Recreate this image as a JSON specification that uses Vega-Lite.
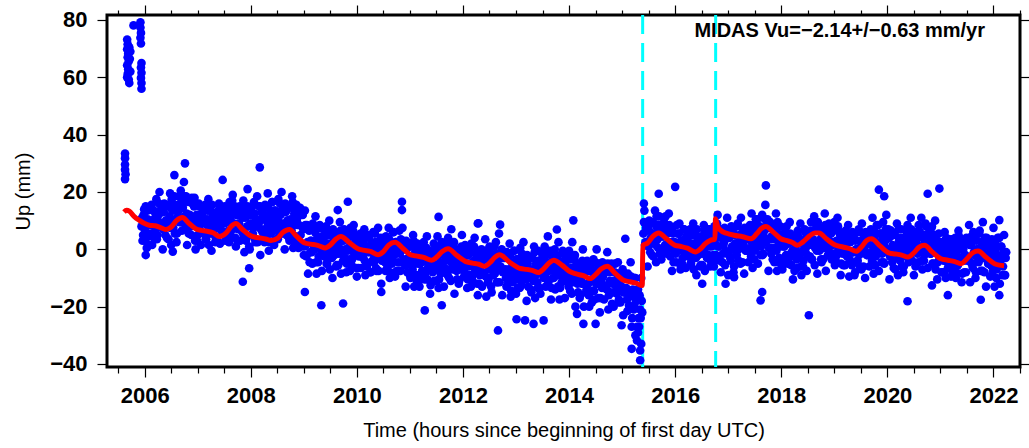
{
"$schema":"https://vega.github.io/schema/vega-lite/v6.json",
"width":913,"height":352,
"autosize":{"type":"none"},
"padding":{"left":107,"top":15,"right":9,"bottom":81},
"background":"white",
"config":{
"view":{"stroke":"black","strokeWidth":3},
"axis":{"domain":false,"grid":false,"tickColor":"black","tickWidth":1.2,"labelFont":"Liberation Sans","labelFontSize":22,"labelFontWeight":"bold","labelColor":"black","titleFont":"Liberation Sans","titleFontSize":20,"titleFontWeight":"normal","titleColor":"black","labelFlush":false,"labelOverlap":false}
},
"datasets":{
"breaks":[{"t":2015.387},{"t":2016.763}],
"label":[{"t":2021.84,"u":74.15,"txt":"MIDAS Vu=−2.14+/−0.63 mm/yr"}],
"model":[
{"t":2005.61,"u":13.0},{"t":2005.66,"u":13.6},{"t":2005.71,"u":13.3},{"t":2005.80,"u":11.5},{"t":2005.90,"u":10.1},{"t":2006.00,"u":9.0},{"t":2006.09,"u":8.4},{"t":2006.20,"u":8.2},{"t":2006.30,"u":7.6},{"t":2006.40,"u":6.9},{"t":2006.50,"u":7.8},{"t":2006.60,"u":10.0},{"t":2006.71,"u":11.1},{"t":2006.84,"u":9.0},{"t":2006.96,"u":7.2},{"t":2007.07,"u":6.6},{"t":2007.15,"u":6.4},{"t":2007.29,"u":5.8},{"t":2007.41,"u":4.5},{"t":2007.54,"u":5.8},{"t":2007.63,"u":8.0},{"t":2007.72,"u":9.0},{"t":2007.84,"u":7.0},{"t":2007.98,"u":4.9},{"t":2008.09,"u":4.2},{"t":2008.20,"u":3.9},{"t":2008.28,"u":3.6},{"t":2008.38,"u":3.1},{"t":2008.51,"u":3.9},{"t":2008.60,"u":5.8},{"t":2008.73,"u":6.9},{"t":2008.86,"u":4.6},{"t":2009.02,"u":2.2},{"t":2009.13,"u":1.8},{"t":2009.26,"u":1.4},{"t":2009.40,"u":0.5},{"t":2009.50,"u":1.5},{"t":2009.60,"u":3.5},{"t":2009.70,"u":4.5},{"t":2009.85,"u":2.5},{"t":2010.02,"u":0.2},{"t":2010.12,"u":-0.3},{"t":2010.27,"u":-0.8},{"t":2010.40,"u":-1.9},{"t":2010.50,"u":-0.8},{"t":2010.60,"u":1.5},{"t":2010.72,"u":2.5},{"t":2010.87,"u":0.3},{"t":2011.00,"u":-1.8},{"t":2011.11,"u":-2.3},{"t":2011.26,"u":-2.8},{"t":2011.41,"u":-3.8},{"t":2011.51,"u":-2.6},{"t":2011.61,"u":-0.8},{"t":2011.72,"u":0.2},{"t":2011.89,"u":-2.2},{"t":2012.07,"u":-4.4},{"t":2012.18,"u":-4.8},{"t":2012.30,"u":-5.2},{"t":2012.41,"u":-5.9},{"t":2012.51,"u":-4.6},{"t":2012.60,"u":-2.8},{"t":2012.69,"u":-1.9},{"t":2012.88,"u":-4.5},{"t":2013.08,"u":-6.7},{"t":2013.20,"u":-7.0},{"t":2013.32,"u":-7.4},{"t":2013.42,"u":-8.1},{"t":2013.52,"u":-6.8},{"t":2013.62,"u":-4.8},{"t":2013.71,"u":-3.8},{"t":2013.87,"u":-5.6},{"t":2014.00,"u":-7.6},{"t":2014.12,"u":-8.5},{"t":2014.27,"u":-9.2},{"t":2014.40,"u":-10.2},{"t":2014.50,"u":-8.8},{"t":2014.61,"u":-6.8},{"t":2014.72,"u":-5.9},{"t":2014.87,"u":-8.4},{"t":2015.03,"u":-10.8},{"t":2015.14,"u":-11.3},{"t":2015.26,"u":-11.8},{"t":2015.38,"u":-12.6},{"t":2015.39,"u":1.4},{"t":2015.48,"u":2.2},{"t":2015.58,"u":4.5},{"t":2015.69,"u":5.7},{"t":2015.83,"u":3.8},{"t":2016.00,"u":1.4},{"t":2016.11,"u":1.0},{"t":2016.23,"u":0.4},{"t":2016.38,"u":-0.9},{"t":2016.48,"u":0.2},{"t":2016.57,"u":2.0},{"t":2016.66,"u":3.1},{"t":2016.75,"u":3.6},{"t":2016.76,"u":10.7},{"t":2016.80,"u":8.0},{"t":2016.86,"u":6.6},{"t":2016.97,"u":5.6},{"t":2017.11,"u":4.9},{"t":2017.27,"u":4.4},{"t":2017.43,"u":3.7},{"t":2017.54,"u":5.5},{"t":2017.62,"u":7.2},{"t":2017.71,"u":8.0},{"t":2017.85,"u":6.0},{"t":2017.99,"u":3.7},{"t":2018.11,"u":3.0},{"t":2018.21,"u":2.4},{"t":2018.30,"u":1.4},{"t":2018.41,"u":2.6},{"t":2018.53,"u":4.6},{"t":2018.63,"u":5.7},{"t":2018.71,"u":5.7},{"t":2018.86,"u":3.5},{"t":2019.03,"u":1.4},{"t":2019.16,"u":0.8},{"t":2019.29,"u":0.2},{"t":2019.41,"u":-0.7},{"t":2019.51,"u":0.8},{"t":2019.61,"u":3.1},{"t":2019.70,"u":3.7},{"t":2019.86,"u":1.2},{"t":2020.04,"u":-1.3},{"t":2020.15,"u":-1.6},{"t":2020.27,"u":-2.0},{"t":2020.39,"u":-2.7},{"t":2020.50,"u":-1.2},{"t":2020.60,"u":0.8},{"t":2020.70,"u":1.4},{"t":2020.85,"u":-1.0},{"t":2021.01,"u":-3.3},{"t":2021.14,"u":-3.8},{"t":2021.27,"u":-4.3},{"t":2021.39,"u":-5.0},{"t":2021.49,"u":-3.5},{"t":2021.61,"u":-1.2},{"t":2021.71,"u":-0.6},{"t":2021.86,"u":-2.8},{"t":2022.02,"u":-5.0},{"t":2022.11,"u":-5.5},{"t":2022.20,"u":-5.7}
],
"pts":[
{"t":2005.67,"u":73.2},{"t":2005.68,"u":71.5},{"t":2005.67,"u":69.8},{"t":2005.69,"u":68.3},{"t":2005.68,"u":67},{"t":2005.70,"u":65.6},{"t":2005.67,"u":64.2},{"t":2005.69,"u":62.8},{"t":2005.68,"u":61.2},{"t":2005.67,"u":60},{"t":2005.70,"u":59.2},{"t":2005.71,"u":58},{"t":2005.72,"u":66.5},{"t":2005.73,"u":69},{"t":2005.73,"u":62},{"t":2005.71,"u":70.5},{"t":2005.79,"u":78.1},{"t":2005.92,"u":79.2},{"t":2005.92,"u":77.4},{"t":2005.93,"u":75.5},{"t":2005.92,"u":73.8},{"t":2005.93,"u":71.8},{"t":2005.94,"u":65},{"t":2005.93,"u":63.4},{"t":2005.94,"u":61.6},{"t":2005.93,"u":59.8},{"t":2005.94,"u":58},{"t":2005.94,"u":56},{"t":2005.63,"u":33.4},{"t":2005.63,"u":31.8},{"t":2005.63,"u":29.6},{"t":2005.63,"u":27.8},{"t":2005.64,"u":26.2},{"t":2005.63,"u":24.5},
{"t":2006.76,"u":30},{"t":2008.17,"u":28.6},{"t":2009.02,"u":-14.9},{"t":2009.33,"u":-19.5},{"t":2009.74,"u":-18.9},{"t":2010.46,"u":-14.9},{"t":2011.28,"u":-21.3},{"t":2011.60,"u":-19.5},{"t":2011.54,"u":11.3},{"t":2012.28,"u":9},{"t":2012.66,"u":-28.3},{"t":2013.01,"u":-24.4},{"t":2013.17,"u":-24.8},{"t":2013.33,"u":-26},{"t":2013.52,"u":-24.8},{"t":2014.08,"u":10.1},{"t":2015.06,"u":3.7},{"t":2014.15,"u":-22.5},{"t":2014.27,"u":-26},{"t":2014.50,"u":-26},{"t":2014.99,"u":-26.5},{"t":2015.18,"u":-34.7},{"t":2015.28,"u":-31.8},{"t":2015.34,"u":-35.3},{"t":2015.34,"u":-38.7},{"t":2015.30,"u":-29},{"t":2015.36,"u":-33},{"t":2015.25,"u":-30},{"t":2015.32,"u":-27},{"t":2015.41,"u":16},{"t":2015.69,"u":19.4},{"t":2016.00,"u":21.8},{"t":2016.51,"u":-12},{"t":2017.71,"u":22.3},{"t":2017.64,"u":-14.9},{"t":2017.61,"u":-17.8},{"t":2018.52,"u":-23},{"t":2016.95,"u":-12},{"t":2017.11,"u":-9.7},{"t":2019.84,"u":20.8},{"t":2019.94,"u":18.5},{"t":2020.76,"u":19.4},{"t":2020.98,"u":21.2},{"t":2020.38,"u":-18.1},{"t":2020.84,"u":-12.6},{"t":2021.14,"u":-16},{"t":2021.76,"u":-17.6},{"t":2022.11,"u":-16},{"t":2007.47,"u":24.2},{"t":2006.56,"u":25.9},{"t":2007.94,"u":21},{"t":2007.85,"u":-11.3},{"t":2007.97,"u":-6.6},{"t":2006.53,"u":-0.8},{"t":2006.02,"u":-2},{"t":2010.85,"u":16.6},{"t":2010.85,"u":13.7},{"t":2009.83,"u":16.6},{"t":2009.64,"u":13.7},{"t":2012.29,"u":9.1},{"t":2012.70,"u":8.6},{"t":2013.77,"u":6.9},{"t":2022.11,"u":10.2},
{"t":2005.94,"u":8},{"t":2005.96,"u":3},{"t":2005.98,"u":12},{"t":2006.00,"u":7},{"t":2006.02,"u":15},
{"t":2006.04,"u":0.5},{"t":2006.06,"u":10.5},{"t":2006.08,"u":4.5},{"t":2006.10,"u":14.5},{"t":2006.12,"u":8.5},
{"t":2006.14,"u":1.5},{"t":2006.16,"u":13.5},{"t":2006.18,"u":10.5},{"t":2006.20,"u":6.5},{"t":2006.22,"u":17.5},
{"t":2006.24,"u":5},{"t":2006.26,"u":12},{"t":2006.28,"u":20},{"t":2006.30,"u":9},{"t":2006.32,"u":15},
{"t":2006.34,"u":0},{"t":2006.36,"u":13},{"t":2006.38,"u":8},{"t":2006.40,"u":10},{"t":2006.42,"u":4},
{"t":2006.44,"u":15.5},{"t":2006.46,"u":8.5},{"t":2006.48,"u":19.5},{"t":2006.50,"u":1.5},{"t":2006.52,"u":13.5},
{"t":2006.54,"u":7.5},{"t":2006.56,"u":18.5},{"t":2006.58,"u":10.5},{"t":2006.60,"u":2.5},{"t":2006.62,"u":15.5},
{"t":2006.64,"u":13.5},{"t":2006.66,"u":9.5},{"t":2006.68,"u":20.5},{"t":2006.70,"u":6.5},{"t":2006.72,"u":14.5},
{"t":2006.74,"u":23.5},{"t":2006.76,"u":11.5},{"t":2006.78,"u":18.5},{"t":2006.80,"u":1.5},{"t":2006.82,"u":16.5},
{"t":2006.84,"u":9},{"t":2006.86,"u":11},{"t":2006.88,"u":5},{"t":2006.90,"u":16},{"t":2006.92,"u":9},
{"t":2006.94,"u":18},{"t":2006.96,"u":0},{"t":2006.98,"u":12},{"t":2007.00,"u":5},{"t":2007.02,"u":16},
{"t":2007.04,"u":8.5},{"t":2007.06,"u":1.5},{"t":2007.08,"u":11.5},{"t":2007.10,"u":9.5},{"t":2007.12,"u":5.5},
{"t":2007.14,"u":15.5},{"t":2007.16,"u":3.5},{"t":2007.18,"u":10.5},{"t":2007.20,"u":17.5},{"t":2007.22,"u":7.5},
{"t":2007.24,"u":13.5},{"t":2007.26,"u":-0.5},{"t":2007.28,"u":11.5},{"t":2007.30,"u":6.5},{"t":2007.32,"u":8.5},
{"t":2007.34,"u":4},{"t":2007.36,"u":13},{"t":2007.38,"u":8},{"t":2007.40,"u":16},{"t":2007.42,"u":2},
{"t":2007.44,"u":11},{"t":2007.46,"u":6},{"t":2007.48,"u":14},{"t":2007.50,"u":9},{"t":2007.52,"u":3},
{"t":2007.54,"u":12.5},{"t":2007.56,"u":10.5},{"t":2007.58,"u":6.5},{"t":2007.60,"u":16.5},{"t":2007.62,"u":4.5},
{"t":2007.64,"u":12},{"t":2007.66,"u":19},{"t":2007.68,"u":9},{"t":2007.70,"u":15},{"t":2007.72,"u":1},
{"t":2007.74,"u":12},{"t":2007.76,"u":7},{"t":2007.78,"u":9},{"t":2007.80,"u":3},{"t":2007.82,"u":14},
{"t":2007.84,"u":6},{"t":2007.86,"u":17},{"t":2007.88,"u":-1},{"t":2007.90,"u":11},{"t":2007.92,"u":4},
{"t":2007.94,"u":15},{"t":2007.96,"u":8},{"t":2007.98,"u":0},{"t":2008.00,"u":12},{"t":2008.02,"u":9},
{"t":2008.04,"u":5.5},{"t":2008.06,"u":16.5},{"t":2008.08,"u":3.5},{"t":2008.10,"u":10.5},{"t":2008.12,"u":18.5},
{"t":2008.14,"u":8},{"t":2008.16,"u":15},{"t":2008.18,"u":-2},{"t":2008.20,"u":13},{"t":2008.22,"u":6},
{"t":2008.24,"u":10.5},{"t":2008.26,"u":2.5},{"t":2008.28,"u":14.5},{"t":2008.30,"u":7.5},{"t":2008.32,"u":19.5},
{"t":2008.34,"u":-0.5},{"t":2008.36,"u":12.5},{"t":2008.38,"u":5.5},{"t":2008.40,"u":16.5},{"t":2008.42,"u":8.5},
{"t":2008.44,"u":1.5},{"t":2008.46,"u":13.5},{"t":2008.48,"u":10.5},{"t":2008.50,"u":6.5},{"t":2008.52,"u":17.5},
{"t":2008.54,"u":5},{"t":2008.56,"u":12},{"t":2008.58,"u":20},{"t":2008.60,"u":9},{"t":2008.62,"u":15},
{"t":2008.64,"u":0},{"t":2008.66,"u":13},{"t":2008.68,"u":8},{"t":2008.70,"u":10},{"t":2008.72,"u":4},
{"t":2008.74,"u":14.5},{"t":2008.76,"u":7.5},{"t":2008.78,"u":18.5},{"t":2008.80,"u":0.5},{"t":2008.82,"u":12.5},
{"t":2008.84,"u":4.5},{"t":2008.86,"u":15.5},{"t":2008.88,"u":8.5},{"t":2008.90,"u":0.5},{"t":2008.92,"u":12.5},
{"t":2008.94,"u":5},{"t":2008.96,"u":1},{"t":2008.98,"u":12},{"t":2009.00,"u":-2},
{"t":2009.02,"u":13.5},{"t":2009.04,"u":1.5},{"t":2009.06,"u":8.5},{"t":2009.08,"u":-8.5},{"t":2009.10,"u":6.5},
{"t":2009.12,"u":-1},{"t":2009.14,"u":3},{"t":2009.16,"u":-5},{"t":2009.18,"u":7},{"t":2009.20,"u":0},
{"t":2009.22,"u":11.5},{"t":2009.24,"u":-8.5},{"t":2009.26,"u":4.5},{"t":2009.28,"u":-2.5},{"t":2009.30,"u":8.5},
{"t":2009.32,"u":0.5},{"t":2009.34,"u":-7.5},{"t":2009.36,"u":4.5},{"t":2009.38,"u":1.5},{"t":2009.40,"u":-2.5},
{"t":2009.42,"u":8},{"t":2009.44,"u":-5},{"t":2009.46,"u":2},{"t":2009.48,"u":10},{"t":2009.50,"u":-1},
{"t":2009.52,"u":5},{"t":2009.54,"u":-10},{"t":2009.56,"u":3},{"t":2009.58,"u":-2},{"t":2009.60,"u":0},
{"t":2009.62,"u":-5.5},{"t":2009.64,"u":5.5},{"t":2009.66,"u":-1.5},{"t":2009.68,"u":9.5},{"t":2009.70,"u":-8.5},
{"t":2009.72,"u":3},{"t":2009.74,"u":-4},{"t":2009.76,"u":7},{"t":2009.78,"u":0},{"t":2009.80,"u":-8},
{"t":2009.82,"u":3.5},{"t":2009.84,"u":0.5},{"t":2009.86,"u":-3.5},{"t":2009.88,"u":7.5},{"t":2009.90,"u":-5.5},
{"t":2009.92,"u":1.5},{"t":2009.94,"u":8.5},{"t":2009.96,"u":-1.5},{"t":2009.98,"u":4.5},{"t":2010.00,"u":-9.5},
{"t":2010.02,"u":2.5},{"t":2010.04,"u":-2.5},{"t":2010.06,"u":-0.5},{"t":2010.08,"u":-6.5},{"t":2010.10,"u":3.5},
{"t":2010.12,"u":-3},{"t":2010.14,"u":7},{"t":2010.16,"u":-9},{"t":2010.18,"u":1},{"t":2010.20,"u":-5},
{"t":2010.22,"u":5},{"t":2010.24,"u":-1},{"t":2010.26,"u":-8},{"t":2010.28,"u":2},{"t":2010.30,"u":0},
{"t":2010.32,"u":-4.5},{"t":2010.34,"u":5.5},{"t":2010.36,"u":-6.5},{"t":2010.38,"u":0.5},{"t":2010.40,"u":7.5},
{"t":2010.42,"u":-3},{"t":2010.44,"u":3},{"t":2010.46,"u":-12},{"t":2010.48,"u":1},{"t":2010.50,"u":-4},
{"t":2010.52,"u":-1.5},{"t":2010.54,"u":-7.5},{"t":2010.56,"u":3.5},{"t":2010.58,"u":-3.5},{"t":2010.60,"u":7.5},
{"t":2010.62,"u":-10},{"t":2010.64,"u":2},{"t":2010.66,"u":-5},{"t":2010.68,"u":6},{"t":2010.70,"u":-1},
{"t":2010.72,"u":-9.5},{"t":2010.74,"u":2.5},{"t":2010.76,"u":-0.5},{"t":2010.78,"u":-4.5},{"t":2010.80,"u":6.5},
{"t":2010.82,"u":-7.5},{"t":2010.84,"u":-0.5},{"t":2010.86,"u":7.5},{"t":2010.88,"u":-3.5},{"t":2010.90,"u":2.5},
{"t":2010.92,"u":-13},{"t":2010.94,"u":0},{"t":2010.96,"u":-5},{"t":2010.98,"u":-3},{"t":2011.00,"u":-9},
{"t":2011.02,"u":1},{"t":2011.04,"u":-6},{"t":2011.06,"u":5},{"t":2011.08,"u":-13},{"t":2011.10,"u":-1},
{"t":2011.12,"u":-9},{"t":2011.14,"u":2},{"t":2011.16,"u":-5},{"t":2011.18,"u":-13},{"t":2011.20,"u":-1},
{"t":2011.22,"u":-4.5},{"t":2011.24,"u":-8.5},{"t":2011.26,"u":2.5},{"t":2011.28,"u":-10.5},{"t":2011.30,"u":-3.5},
{"t":2011.32,"u":4.5},{"t":2011.34,"u":-6.5},{"t":2011.36,"u":-0.5},{"t":2011.38,"u":-15.5},{"t":2011.40,"u":-2.5},
{"t":2011.42,"u":-7},{"t":2011.44,"u":-5},{"t":2011.46,"u":-11},{"t":2011.48,"u":0},{"t":2011.50,"u":-7},
{"t":2011.52,"u":4.5},{"t":2011.54,"u":-13.5},{"t":2011.56,"u":-1.5},{"t":2011.58,"u":-8.5},{"t":2011.60,"u":2.5},
{"t":2011.62,"u":-5},{"t":2011.64,"u":-13},{"t":2011.66,"u":0},{"t":2011.68,"u":-3},{"t":2011.70,"u":-7},
{"t":2011.72,"u":4},{"t":2011.74,"u":-10},{"t":2011.76,"u":-2},{"t":2011.78,"u":7},{"t":2011.80,"u":-5},
{"t":2011.82,"u":1.5},{"t":2011.84,"u":-15.5},{"t":2011.86,"u":-0.5},{"t":2011.88,"u":-7.5},{"t":2011.90,"u":-3.5},
{"t":2011.92,"u":-12},{"t":2011.94,"u":0},{"t":2011.96,"u":-7},{"t":2011.98,"u":5},
{"t":2012.00,"u":-2.5},{"t":2012.02,"u":-9.5},{"t":2012.04,"u":1.5},{"t":2012.06,"u":-5.5},{"t":2012.08,"u":-13.5},
{"t":2012.10,"u":-2},{"t":2012.12,"u":-5},{"t":2012.14,"u":-9},{"t":2012.16,"u":2},{"t":2012.18,"u":-11},
{"t":2012.20,"u":-4},{"t":2012.22,"u":4},{"t":2012.24,"u":-7},{"t":2012.26,"u":-1},{"t":2012.28,"u":-16},
{"t":2012.30,"u":-2},{"t":2012.32,"u":-9},{"t":2012.34,"u":-5},{"t":2012.36,"u":-13},{"t":2012.38,"u":-1},
{"t":2012.40,"u":-8.5},{"t":2012.42,"u":3.5},{"t":2012.44,"u":-16.5},{"t":2012.46,"u":-3.5},{"t":2012.48,"u":-10.5},
{"t":2012.50,"u":1},{"t":2012.52,"u":-7},{"t":2012.54,"u":-15},{"t":2012.56,"u":-2},{"t":2012.58,"u":-5},
{"t":2012.60,"u":-8.5},{"t":2012.62,"u":2.5},{"t":2012.64,"u":-11.5},{"t":2012.66,"u":-3.5},{"t":2012.68,"u":5.5},
{"t":2012.70,"u":-7},{"t":2012.72,"u":-1},{"t":2012.74,"u":-16},{"t":2012.76,"u":-3},{"t":2012.78,"u":-8},
{"t":2012.80,"u":-7},{"t":2012.82,"u":-13},{"t":2012.84,"u":-2},{"t":2012.86,"u":-9},{"t":2012.88,"u":2},
{"t":2012.90,"u":-16.5},{"t":2012.92,"u":-4.5},{"t":2012.94,"u":-11.5},{"t":2012.96,"u":-0.5},{"t":2012.98,"u":-7.5},
{"t":2013.00,"u":-15.5},{"t":2013.02,"u":-3.5},{"t":2013.04,"u":-6.5},{"t":2013.06,"u":-10.5},{"t":2013.08,"u":0.5},
{"t":2013.10,"u":-12.5},{"t":2013.12,"u":-5.5},{"t":2013.14,"u":2.5},{"t":2013.16,"u":-8.5},{"t":2013.18,"u":-2.5},
{"t":2013.20,"u":-18},{"t":2013.22,"u":-5},{"t":2013.24,"u":-10},{"t":2013.26,"u":-8},{"t":2013.28,"u":-14},
{"t":2013.30,"u":-3},{"t":2013.32,"u":-10},{"t":2013.34,"u":1},{"t":2013.36,"u":-17},{"t":2013.38,"u":-5},
{"t":2013.40,"u":-11.5},{"t":2013.42,"u":-0.5},{"t":2013.44,"u":-7.5},{"t":2013.46,"u":-15.5},{"t":2013.48,"u":-3.5},
{"t":2013.50,"u":-6},{"t":2013.52,"u":-10},{"t":2013.54,"u":1},{"t":2013.56,"u":-13},{"t":2013.58,"u":-5},
{"t":2013.60,"u":4.5},{"t":2013.62,"u":-7.5},{"t":2013.64,"u":-0.5},{"t":2013.66,"u":-17.5},{"t":2013.68,"u":-2.5},
{"t":2013.70,"u":-10},{"t":2013.72,"u":-6},{"t":2013.74,"u":-14},{"t":2013.76,"u":-2},{"t":2013.78,"u":-9},
{"t":2013.80,"u":2.5},{"t":2013.82,"u":-17.5},{"t":2013.84,"u":-4.5},{"t":2013.86,"u":-11.5},{"t":2013.88,"u":-0.5},
{"t":2013.90,"u":-9},{"t":2013.92,"u":-17},{"t":2013.94,"u":-4},{"t":2013.96,"u":-7},{"t":2013.98,"u":-11},
{"t":2014.00,"u":-0.5},{"t":2014.02,"u":-14.5},{"t":2014.04,"u":-6.5},{"t":2014.06,"u":2.5},{"t":2014.08,"u":-9.5},
{"t":2014.10,"u":-3},{"t":2014.12,"u":-20},{"t":2014.14,"u":-5},{"t":2014.16,"u":-12},{"t":2014.18,"u":-8},
{"t":2014.20,"u":-17},{"t":2014.22,"u":-5},{"t":2014.24,"u":-12},{"t":2014.26,"u":0},{"t":2014.28,"u":-20},
{"t":2014.30,"u":-8},{"t":2014.32,"u":-15},{"t":2014.34,"u":-4},{"t":2014.36,"u":-12},{"t":2014.38,"u":-20},
{"t":2014.40,"u":-7.5},{"t":2014.42,"u":-10.5},{"t":2014.44,"u":-14.5},{"t":2014.46,"u":-3.5},{"t":2014.48,"u":-17.5},
{"t":2014.50,"u":-9},{"t":2014.52,"u":0},{"t":2014.54,"u":-12},{"t":2014.56,"u":-5},{"t":2014.58,"u":-22},
{"t":2014.60,"u":-6.5},{"t":2014.62,"u":-13.5},{"t":2014.64,"u":-9.5},{"t":2014.66,"u":-17.5},{"t":2014.68,"u":-5.5},
{"t":2014.70,"u":-13},{"t":2014.72,"u":-1},{"t":2014.74,"u":-21},{"t":2014.76,"u":-8},{"t":2014.78,"u":-15},
{"t":2014.80,"u":-5},{"t":2014.82,"u":-12},{"t":2014.84,"u":-20},{"t":2014.86,"u":-8},{"t":2014.88,"u":-11},
{"t":2014.90,"u":-15.5},{"t":2014.92,"u":-4.5},{"t":2014.94,"u":-17.5},{"t":2014.96,"u":-10.5},
{"t":2014.98,"u":-14},{"t":2015.00,"u":-8},{"t":2015.02,"u":-23},{"t":2015.04,"u":-10},{"t":2015.06,"u":-15},
{"t":2015.08,"u":-13.5},{"t":2015.10,"u":-21.5},{"t":2015.12,"u":-9.5},{"t":2015.14,"u":-16.5},{"t":2015.16,"u":-4.5},
{"t":2015.18,"u":-27},{"t":2015.20,"u":-14},{"t":2015.22,"u":-21},{"t":2015.24,"u":-10},{"t":2015.26,"u":-18},
{"t":2015.28,"u":-27},{"t":2015.30,"u":-14},{"t":2015.32,"u":-17},{"t":2015.34,"u":-21},{"t":2015.36,"u":-10},
{"t":2015.38,"u":-22},
{"t":2015.40,"u":5.5},{"t":2015.42,"u":13.5},{"t":2015.44,"u":2.5},{"t":2015.46,"u":8.5},
{"t":2015.48,"u":-6},{"t":2015.50,"u":7},{"t":2015.52,"u":2},{"t":2015.54,"u":4},{"t":2015.56,"u":-2},
{"t":2015.58,"u":9.5},{"t":2015.60,"u":2.5},{"t":2015.62,"u":13.5},{"t":2015.64,"u":-4.5},{"t":2015.66,"u":7.5},
{"t":2015.68,"u":0.5},{"t":2015.70,"u":11.5},{"t":2015.72,"u":4.5},{"t":2015.74,"u":-3.5},{"t":2015.76,"u":8.5},
{"t":2015.78,"u":4.5},{"t":2015.80,"u":0.5},{"t":2015.82,"u":11.5},{"t":2015.84,"u":-1.5},{"t":2015.86,"u":5.5},
{"t":2015.88,"u":12.5},{"t":2015.90,"u":1.5},{"t":2015.92,"u":7.5},{"t":2015.94,"u":-7.5},{"t":2015.96,"u":5.5},
{"t":2015.98,"u":-0.5},{"t":2016.00,"u":1.5},{"t":2016.02,"u":-4.5},{"t":2016.04,"u":5.5},{"t":2016.06,"u":-0.5},
{"t":2016.08,"u":9},{"t":2016.10,"u":-7},{"t":2016.12,"u":3},{"t":2016.14,"u":-3},{"t":2016.16,"u":7},
{"t":2016.18,"u":0.5},{"t":2016.20,"u":-6.5},{"t":2016.22,"u":3.5},{"t":2016.24,"u":1.5},{"t":2016.26,"u":-2.5},
{"t":2016.28,"u":7},{"t":2016.30,"u":-5},{"t":2016.32,"u":2},{"t":2016.34,"u":9},{"t":2016.36,"u":-1},
{"t":2016.38,"u":5},{"t":2016.40,"u":-9},{"t":2016.42,"u":3},{"t":2016.44,"u":-2},{"t":2016.46,"u":0},
{"t":2016.48,"u":-5.5},{"t":2016.50,"u":4.5},{"t":2016.52,"u":-1.5},{"t":2016.54,"u":8.5},{"t":2016.56,"u":-7.5},
{"t":2016.58,"u":3},{"t":2016.60,"u":-3},{"t":2016.62,"u":7},{"t":2016.64,"u":1},{"t":2016.66,"u":-6},
{"t":2016.68,"u":4},{"t":2016.70,"u":2},{"t":2016.72,"u":-2},{"t":2016.74,"u":8},{"t":2016.76,"u":-4},
{"t":2016.78,"u":4},{"t":2016.80,"u":12},{"t":2016.82,"u":1},{"t":2016.84,"u":7},{"t":2016.86,"u":-8},
{"t":2016.88,"u":5.5},{"t":2016.90,"u":-1.5},{"t":2016.92,"u":2.5},{"t":2016.94,"u":-5.5},
{"t":2016.96,"u":-1},{"t":2016.98,"u":11},{"t":2017.00,"u":-9},{"t":2017.02,"u":4},{"t":2017.04,"u":-3},
{"t":2017.06,"u":8},{"t":2017.08,"u":0},{"t":2017.10,"u":-8},{"t":2017.12,"u":5},{"t":2017.14,"u":2},
{"t":2017.16,"u":-2},{"t":2017.18,"u":9},{"t":2017.20,"u":-4},{"t":2017.22,"u":3},{"t":2017.24,"u":11},
{"t":2017.26,"u":0.5},{"t":2017.28,"u":6.5},{"t":2017.30,"u":-8.5},{"t":2017.32,"u":4.5},{"t":2017.34,"u":-0.5},
{"t":2017.36,"u":3.5},{"t":2017.38,"u":-4.5},{"t":2017.40,"u":7.5},{"t":2017.42,"u":0.5},{"t":2017.44,"u":12.5},
{"t":2017.46,"u":-6.5},{"t":2017.48,"u":6.5},{"t":2017.50,"u":-0.5},{"t":2017.52,"u":10.5},{"t":2017.54,"u":2.5},
{"t":2017.56,"u":-5},{"t":2017.58,"u":8},{"t":2017.60,"u":5},{"t":2017.62,"u":1},{"t":2017.64,"u":12},
{"t":2017.66,"u":-1.5},{"t":2017.68,"u":6.5},{"t":2017.70,"u":15.5},{"t":2017.72,"u":3.5},{"t":2017.74,"u":10.5},
{"t":2017.76,"u":-7.5},{"t":2017.78,"u":7.5},{"t":2017.80,"u":0.5},{"t":2017.82,"u":4.5},{"t":2017.84,"u":-3.5},
{"t":2017.86,"u":7.5},{"t":2017.88,"u":0.5},{"t":2017.90,"u":12.5},{"t":2017.92,"u":-7.5},{"t":2017.94,"u":5.5},
{"t":2017.96,"u":-3},{"t":2017.98,"u":8},{"t":2018.00,"u":1},{"t":2018.02,"u":-7},{"t":2018.04,"u":5},
{"t":2018.06,"u":1},{"t":2018.08,"u":-3},{"t":2018.10,"u":8},{"t":2018.12,"u":-5},{"t":2018.14,"u":2},
{"t":2018.16,"u":9.5},{"t":2018.18,"u":-1.5},{"t":2018.20,"u":4.5},{"t":2018.22,"u":-10.5},{"t":2018.24,"u":2.5},
{"t":2018.26,"u":-2.5},{"t":2018.28,"u":-0.5},{"t":2018.30,"u":-6.5},{"t":2018.32,"u":4.5},{"t":2018.34,"u":-2.5},
{"t":2018.36,"u":9},{"t":2018.38,"u":-9},{"t":2018.40,"u":3},{"t":2018.42,"u":-4},{"t":2018.44,"u":7},
{"t":2018.46,"u":0.5},{"t":2018.48,"u":-7.5},{"t":2018.50,"u":4.5},{"t":2018.52,"u":1.5},{"t":2018.54,"u":-2.5},
{"t":2018.56,"u":9.5},{"t":2018.58,"u":-3.5},{"t":2018.60,"u":3.5},{"t":2018.62,"u":11.5},{"t":2018.64,"u":0.5},
{"t":2018.66,"u":8.5},{"t":2018.68,"u":-8.5},{"t":2018.70,"u":6.5},{"t":2018.72,"u":-0.5},{"t":2018.74,"u":3.5},
{"t":2018.76,"u":-4.5},{"t":2018.78,"u":7.5},{"t":2018.80,"u":0.5},{"t":2018.82,"u":12.5},{"t":2018.84,"u":-7.5},
{"t":2018.86,"u":5},{"t":2018.88,"u":-2},{"t":2018.90,"u":9},{"t":2018.92,"u":2},
{"t":2018.94,"u":5.5},{"t":2018.96,"u":2.5},{"t":2018.98,"u":-1.5},{"t":2019.00,"u":9.5},{"t":2019.02,"u":-3.5},
{"t":2019.04,"u":3},{"t":2019.06,"u":11},{"t":2019.08,"u":0},{"t":2019.10,"u":6},{"t":2019.12,"u":-9},
{"t":2019.14,"u":3.5},{"t":2019.16,"u":-1.5},{"t":2019.18,"u":0.5},{"t":2019.20,"u":-5.5},{"t":2019.22,"u":5.5},
{"t":2019.24,"u":-2.5},{"t":2019.26,"u":8.5},{"t":2019.28,"u":-9.5},{"t":2019.30,"u":2.5},{"t":2019.32,"u":-4.5},
{"t":2019.34,"u":6},{"t":2019.36,"u":-1},{"t":2019.38,"u":-9},{"t":2019.40,"u":3},{"t":2019.42,"u":0},
{"t":2019.44,"u":-4},{"t":2019.46,"u":7},{"t":2019.48,"u":-6},{"t":2019.50,"u":1},{"t":2019.52,"u":9},
{"t":2019.54,"u":-1},{"t":2019.56,"u":5},{"t":2019.58,"u":-10},{"t":2019.60,"u":3},{"t":2019.62,"u":-2},
{"t":2019.64,"u":2},{"t":2019.66,"u":-6},{"t":2019.68,"u":6},{"t":2019.70,"u":-1},{"t":2019.72,"u":11},
{"t":2019.74,"u":-8.5},{"t":2019.76,"u":4.5},{"t":2019.78,"u":-2.5},{"t":2019.80,"u":8.5},{"t":2019.82,"u":0.5},
{"t":2019.84,"u":-7.5},{"t":2019.86,"u":5.5},{"t":2019.88,"u":2.5},{"t":2019.90,"u":-1.5},{"t":2019.92,"u":9.5},
{"t":2019.94,"u":-5},{"t":2019.96,"u":3},{"t":2019.98,"u":12},{"t":2020.00,"u":0},{"t":2020.02,"u":7},
{"t":2020.04,"u":-10.5},{"t":2020.06,"u":4.5},{"t":2020.08,"u":-2.5},{"t":2020.10,"u":1.5},{"t":2020.12,"u":-6.5},
{"t":2020.14,"u":5},{"t":2020.16,"u":-2},{"t":2020.18,"u":9},{"t":2020.20,"u":-9},{"t":2020.22,"u":3},
{"t":2020.24,"u":-4},{"t":2020.26,"u":7},{"t":2020.28,"u":0},{"t":2020.30,"u":-8},{"t":2020.32,"u":4},
{"t":2020.34,"u":1.5},{"t":2020.36,"u":-2.5},{"t":2020.38,"u":8.5},{"t":2020.40,"u":-4.5},{"t":2020.42,"u":2.5},
{"t":2020.44,"u":11},{"t":2020.46,"u":0},{"t":2020.48,"u":6},{"t":2020.50,"u":-9},{"t":2020.52,"u":4},
{"t":2020.54,"u":-0.5},{"t":2020.56,"u":1.5},{"t":2020.58,"u":-4.5},{"t":2020.60,"u":6.5},{"t":2020.62,"u":-0.5},
{"t":2020.64,"u":11},{"t":2020.66,"u":-7},{"t":2020.68,"u":5},{"t":2020.70,"u":-2},{"t":2020.72,"u":9},
{"t":2020.74,"u":1.5},{"t":2020.76,"u":-6.5},{"t":2020.78,"u":5.5},{"t":2020.80,"u":2.5},{"t":2020.82,"u":-1.5},
{"t":2020.84,"u":8},{"t":2020.86,"u":-5},{"t":2020.88,"u":2},{"t":2020.90,"u":10},
{"t":2020.92,"u":3.5},{"t":2020.94,"u":-10.5},{"t":2020.96,"u":1.5},{"t":2020.98,"u":-3.5},{"t":2021.00,"u":-1.5},
{"t":2021.02,"u":-8},{"t":2021.04,"u":2},{"t":2021.06,"u":-4},{"t":2021.08,"u":6},{"t":2021.10,"u":-10},
{"t":2021.12,"u":-0.5},{"t":2021.14,"u":-6.5},{"t":2021.16,"u":3.5},{"t":2021.18,"u":-2.5},{"t":2021.20,"u":-9.5},
{"t":2021.22,"u":0},{"t":2021.24,"u":-2},{"t":2021.26,"u":-6},{"t":2021.28,"u":4},{"t":2021.30,"u":-8},
{"t":2021.32,"u":-0.5},{"t":2021.34,"u":6.5},{"t":2021.36,"u":-3.5},{"t":2021.38,"u":2.5},{"t":2021.40,"u":-11.5},
{"t":2021.42,"u":1},{"t":2021.44,"u":-4},{"t":2021.46,"u":-2},{"t":2021.48,"u":-8},{"t":2021.50,"u":3},
{"t":2021.52,"u":-3.5},{"t":2021.54,"u":8.5},{"t":2021.56,"u":-11.5},{"t":2021.58,"u":1.5},{"t":2021.60,"u":-5.5},
{"t":2021.62,"u":6},{"t":2021.64,"u":-2},{"t":2021.66,"u":-10},{"t":2021.68,"u":3},{"t":2021.70,"u":0},
{"t":2021.72,"u":-4.5},{"t":2021.74,"u":6.5},{"t":2021.76,"u":-7.5},{"t":2021.78,"u":0.5},{"t":2021.80,"u":9.5},
{"t":2021.82,"u":-3},{"t":2021.84,"u":4},{"t":2021.86,"u":-13},{"t":2021.88,"u":2},{"t":2021.90,"u":-5},
{"t":2021.92,"u":-1.5},{"t":2021.94,"u":-9.5},{"t":2021.96,"u":2.5},{"t":2021.98,"u":-4.5},{"t":2022.00,"u":7.5},
{"t":2022.02,"u":-13},{"t":2022.04,"u":0},{"t":2022.06,"u":-7},{"t":2022.08,"u":4},{"t":2022.10,"u":-4},
{"t":2022.12,"u":-12},{"t":2022.14,"u":1},{"t":2022.16,"u":-2},{"t":2022.18,"u":-6},{"t":2022.20,"u":5},
{"t":2022.22,"u":-9},{"t":2022.24,"u":-1},
{"t":2005.95,"u":11},{"t":2005.97,"u":5},{"t":2005.99,"u":14},{"t":2006.01,"u":3},{"t":2006.03,"u":8},
{"t":2006.05,"u":13.5},{"t":2006.07,"u":1.5},{"t":2006.09,"u":9.5},{"t":2006.11,"u":5.5},{"t":2006.13,"u":15.5},
{"t":2006.15,"u":8.5},{"t":2006.17,"u":13.5},{"t":2006.19,"u":3.5},{"t":2006.21,"u":11.5},{"t":2006.23,"u":3.5},
{"t":2006.25,"u":10},{"t":2006.27,"u":16},{"t":2006.29,"u":8},{"t":2006.31,"u":14},{"t":2006.33,"u":13},
{"t":2006.35,"u":7},{"t":2006.37,"u":16},{"t":2006.39,"u":5},{"t":2006.41,"u":10},{"t":2006.43,"u":15},
{"t":2006.45,"u":3.5},{"t":2006.47,"u":11.5},{"t":2006.49,"u":7.5},{"t":2006.51,"u":17.5},{"t":2006.53,"u":9.5},
{"t":2006.55,"u":15.5},{"t":2006.57,"u":5.5},{"t":2006.59,"u":13.5},{"t":2006.61,"u":5.5},{"t":2006.63,"u":11.5},
{"t":2006.65,"u":18.5},{"t":2006.67,"u":10.5},{"t":2006.69,"u":16.5},{"t":2006.71,"u":15.5},{"t":2006.73,"u":9.5},
{"t":2006.75,"u":18.5},{"t":2006.77,"u":7.5},{"t":2006.79,"u":12.5},{"t":2006.81,"u":17.5},{"t":2006.83,"u":5.5},
{"t":2006.85,"u":12},{"t":2006.87,"u":8},{"t":2006.89,"u":18},{"t":2006.91,"u":10},{"t":2006.93,"u":15},
{"t":2006.95,"u":3},{"t":2006.97,"u":11},{"t":2006.99,"u":3},{"t":2007.01,"u":9},{"t":2007.03,"u":15},
{"t":2007.05,"u":6.5},{"t":2007.07,"u":12.5},{"t":2007.09,"u":11.5},{"t":2007.11,"u":5.5},{"t":2007.13,"u":14.5},
{"t":2007.15,"u":3.5},{"t":2007.17,"u":8.5},{"t":2007.19,"u":13.5},{"t":2007.21,"u":1.5},{"t":2007.23,"u":9.5},
{"t":2007.25,"u":5.5},{"t":2007.27,"u":15.5},{"t":2007.29,"u":7.5},{"t":2007.31,"u":12.5},{"t":2007.33,"u":2.5},
{"t":2007.35,"u":11},{"t":2007.37,"u":3},{"t":2007.39,"u":9},{"t":2007.41,"u":15},{"t":2007.43,"u":7},
{"t":2007.45,"u":13},{"t":2007.47,"u":12},{"t":2007.49,"u":6},{"t":2007.51,"u":15},{"t":2007.53,"u":4},
{"t":2007.55,"u":9.5},{"t":2007.57,"u":14.5},{"t":2007.59,"u":2.5},{"t":2007.61,"u":10.5},{"t":2007.63,"u":6.5},
{"t":2007.65,"u":17},{"t":2007.67,"u":9},{"t":2007.69,"u":14},{"t":2007.71,"u":4},{"t":2007.73,"u":12},
{"t":2007.75,"u":3},{"t":2007.77,"u":9},{"t":2007.79,"u":15},{"t":2007.81,"u":7},{"t":2007.83,"u":13},
{"t":2007.85,"u":11},{"t":2007.87,"u":5},{"t":2007.89,"u":14},{"t":2007.91,"u":3},{"t":2007.93,"u":8},
{"t":2007.95,"u":13},{"t":2007.97,"u":1},{"t":2007.99,"u":9},{"t":2008.01,"u":5},{"t":2008.03,"u":15},
{"t":2008.05,"u":7.5},{"t":2008.07,"u":12.5},{"t":2008.09,"u":2.5},{"t":2008.11,"u":10.5},{"t":2008.13,"u":2.5},
{"t":2008.15,"u":9},{"t":2008.17,"u":15},{"t":2008.19,"u":7},{"t":2008.21,"u":13},{"t":2008.23,"u":12},
{"t":2008.25,"u":6.5},{"t":2008.27,"u":15.5},{"t":2008.29,"u":4.5},{"t":2008.31,"u":9.5},{"t":2008.33,"u":14.5},
{"t":2008.35,"u":2.5},{"t":2008.37,"u":10.5},{"t":2008.39,"u":6.5},{"t":2008.41,"u":16.5},{"t":2008.43,"u":8.5},
{"t":2008.45,"u":13.5},{"t":2008.47,"u":3.5},{"t":2008.49,"u":11.5},{"t":2008.51,"u":3.5},{"t":2008.53,"u":9.5},
{"t":2008.55,"u":16},{"t":2008.57,"u":8},{"t":2008.59,"u":14},{"t":2008.61,"u":13},{"t":2008.63,"u":7},
{"t":2008.65,"u":16},{"t":2008.67,"u":5},{"t":2008.69,"u":10},{"t":2008.71,"u":15},{"t":2008.73,"u":3},
{"t":2008.75,"u":10.5},{"t":2008.77,"u":6.5},{"t":2008.79,"u":16.5},{"t":2008.81,"u":8.5},{"t":2008.83,"u":13.5},
{"t":2008.85,"u":2.5},{"t":2008.87,"u":10.5},{"t":2008.89,"u":2.5},{"t":2008.91,"u":8.5},{"t":2008.93,"u":14.5},
{"t":2008.95,"u":2},{"t":2008.97,"u":8},{"t":2008.99,"u":7},{"t":2009.01,"u":1},
{"t":2009.03,"u":8.5},{"t":2009.05,"u":-2.5},{"t":2009.07,"u":2.5},{"t":2009.09,"u":7.5},{"t":2009.11,"u":-4.5},
{"t":2009.13,"u":3},{"t":2009.15,"u":-1},{"t":2009.17,"u":9},{"t":2009.19,"u":1},{"t":2009.21,"u":6},
{"t":2009.23,"u":-4.5},{"t":2009.25,"u":3.5},{"t":2009.27,"u":-4.5},{"t":2009.29,"u":1.5},{"t":2009.31,"u":7.5},
{"t":2009.33,"u":-1.5},{"t":2009.35,"u":4.5},{"t":2009.37,"u":3.5},{"t":2009.39,"u":-2.5},{"t":2009.41,"u":6.5},
{"t":2009.43,"u":-5},{"t":2009.45,"u":0},{"t":2009.47,"u":5},{"t":2009.49,"u":-7},{"t":2009.51,"u":1},
{"t":2009.53,"u":-3},{"t":2009.55,"u":7},{"t":2009.57,"u":-1},{"t":2009.59,"u":4},{"t":2009.61,"u":-6},
{"t":2009.63,"u":2.5},{"t":2009.65,"u":-5.5},{"t":2009.67,"u":0.5},{"t":2009.69,"u":6.5},{"t":2009.71,"u":-1.5},
{"t":2009.73,"u":4},{"t":2009.75,"u":3},{"t":2009.77,"u":-3},{"t":2009.79,"u":6},{"t":2009.81,"u":-5},
{"t":2009.83,"u":-0.5},{"t":2009.85,"u":4.5},{"t":2009.87,"u":-7.5},{"t":2009.89,"u":0.5},{"t":2009.91,"u":-3.5},
{"t":2009.93,"u":6.5},{"t":2009.95,"u":-1.5},{"t":2009.97,"u":3.5},{"t":2009.99,"u":-6.5},{"t":2010.01,"u":1.5},
{"t":2010.03,"u":-6.5},{"t":2010.05,"u":-0.5},{"t":2010.07,"u":5.5},{"t":2010.09,"u":-2.5},{"t":2010.11,"u":3.5},
{"t":2010.13,"u":2},{"t":2010.15,"u":-4},{"t":2010.17,"u":5},{"t":2010.19,"u":-6},{"t":2010.21,"u":-1},
{"t":2010.23,"u":4},{"t":2010.25,"u":-8},{"t":2010.27,"u":0},{"t":2010.29,"u":-4},{"t":2010.31,"u":6},
{"t":2010.33,"u":-2.5},{"t":2010.35,"u":2.5},{"t":2010.37,"u":-7.5},{"t":2010.39,"u":0.5},{"t":2010.41,"u":-7.5},
{"t":2010.43,"u":-2},{"t":2010.45,"u":4},{"t":2010.47,"u":-4},{"t":2010.49,"u":2},{"t":2010.51,"u":1},
{"t":2010.53,"u":-4.5},{"t":2010.55,"u":4.5},{"t":2010.57,"u":-6.5},{"t":2010.59,"u":-1.5},{"t":2010.61,"u":3.5},
{"t":2010.63,"u":-8},{"t":2010.65,"u":0},{"t":2010.67,"u":-4},{"t":2010.69,"u":6},{"t":2010.71,"u":-2},
{"t":2010.73,"u":2.5},{"t":2010.75,"u":-7.5},{"t":2010.77,"u":0.5},{"t":2010.79,"u":-7.5},{"t":2010.81,"u":-1.5},
{"t":2010.83,"u":3.5},{"t":2010.85,"u":-4.5},{"t":2010.87,"u":1.5},{"t":2010.89,"u":0.5},{"t":2010.91,"u":-5.5},
{"t":2010.93,"u":3},{"t":2010.95,"u":-8},{"t":2010.97,"u":-3},{"t":2010.99,"u":2},{"t":2011.01,"u":-10},
{"t":2011.03,"u":-3},{"t":2011.05,"u":-7},{"t":2011.07,"u":3},{"t":2011.09,"u":-5},{"t":2011.11,"u":0},
{"t":2011.13,"u":-11},{"t":2011.15,"u":-3},{"t":2011.17,"u":-11},{"t":2011.19,"u":-5},{"t":2011.21,"u":1},
{"t":2011.23,"u":-7.5},{"t":2011.25,"u":-1.5},{"t":2011.27,"u":-2.5},{"t":2011.29,"u":-8.5},{"t":2011.31,"u":0.5},
{"t":2011.33,"u":-10.5},{"t":2011.35,"u":-5.5},{"t":2011.37,"u":-0.5},{"t":2011.39,"u":-12.5},{"t":2011.41,"u":-4.5},
{"t":2011.43,"u":-8},{"t":2011.45,"u":2},{"t":2011.47,"u":-6},{"t":2011.49,"u":-1},{"t":2011.51,"u":-11},
{"t":2011.53,"u":-2.5},{"t":2011.55,"u":-10.5},{"t":2011.57,"u":-4.5},{"t":2011.59,"u":1.5},{"t":2011.61,"u":-6.5},
{"t":2011.63,"u":0},{"t":2011.65,"u":-1},{"t":2011.67,"u":-7},{"t":2011.69,"u":2},{"t":2011.71,"u":-9},
{"t":2011.73,"u":-4},{"t":2011.75,"u":1},{"t":2011.77,"u":-11},{"t":2011.79,"u":-3},{"t":2011.81,"u":-7},
{"t":2011.83,"u":2.5},{"t":2011.85,"u":-5.5},{"t":2011.87,"u":-0.5},{"t":2011.89,"u":-10.5},{"t":2011.91,"u":-2.5},
{"t":2011.93,"u":-11},{"t":2011.95,"u":-5},{"t":2011.97,"u":1},{"t":2011.99,"u":-7},
{"t":2012.01,"u":-1.5},{"t":2012.03,"u":-2.5},{"t":2012.05,"u":-8.5},{"t":2012.07,"u":0.5},{"t":2012.09,"u":-10.5},
{"t":2012.11,"u":-6},{"t":2012.13,"u":-1},{"t":2012.15,"u":-13},{"t":2012.17,"u":-5},{"t":2012.19,"u":-9},
{"t":2012.21,"u":1},{"t":2012.23,"u":-7},{"t":2012.25,"u":-2},{"t":2012.27,"u":-12},{"t":2012.29,"u":-4},
{"t":2012.31,"u":-12},{"t":2012.33,"u":-6},{"t":2012.35,"u":0},{"t":2012.37,"u":-8},{"t":2012.39,"u":-2},
{"t":2012.41,"u":-3.5},{"t":2012.43,"u":-9.5},{"t":2012.45,"u":-0.5},{"t":2012.47,"u":-11.5},{"t":2012.49,"u":-6.5},
{"t":2012.51,"u":-1},{"t":2012.53,"u":-13},{"t":2012.55,"u":-5},{"t":2012.57,"u":-9},{"t":2012.59,"u":1},
{"t":2012.61,"u":-6.5},{"t":2012.63,"u":-1.5},{"t":2012.65,"u":-11.5},{"t":2012.67,"u":-3.5},{"t":2012.69,"u":-11.5},
{"t":2012.71,"u":-6},{"t":2012.73,"u":0},{"t":2012.75,"u":-8},{"t":2012.77,"u":-2},{"t":2012.79,"u":-3},
{"t":2012.81,"u":-10},{"t":2012.83,"u":-1},{"t":2012.85,"u":-12},{"t":2012.87,"u":-7},{"t":2012.89,"u":-2},
{"t":2012.91,"u":-14.5},{"t":2012.93,"u":-6.5},{"t":2012.95,"u":-10.5},{"t":2012.97,"u":-0.5},{"t":2012.99,"u":-8.5},
{"t":2013.01,"u":-3.5},{"t":2013.03,"u":-13.5},{"t":2013.05,"u":-5.5},{"t":2013.07,"u":-13.5},{"t":2013.09,"u":-7.5},
{"t":2013.11,"u":-1.5},{"t":2013.13,"u":-9.5},{"t":2013.15,"u":-3.5},{"t":2013.17,"u":-4.5},{"t":2013.19,"u":-10.5},
{"t":2013.21,"u":-2},{"t":2013.23,"u":-13},{"t":2013.25,"u":-8},{"t":2013.27,"u":-3},{"t":2013.29,"u":-15},
{"t":2013.31,"u":-7},{"t":2013.33,"u":-11},{"t":2013.35,"u":-1},{"t":2013.37,"u":-9},{"t":2013.39,"u":-4},
{"t":2013.41,"u":-13.5},{"t":2013.43,"u":-5.5},{"t":2013.45,"u":-13.5},{"t":2013.47,"u":-7.5},{"t":2013.49,"u":-1.5},
{"t":2013.51,"u":-9},{"t":2013.53,"u":-3},{"t":2013.55,"u":-4},{"t":2013.57,"u":-10},{"t":2013.59,"u":-1},
{"t":2013.61,"u":-11.5},{"t":2013.63,"u":-6.5},{"t":2013.65,"u":-1.5},{"t":2013.67,"u":-13.5},{"t":2013.69,"u":-5.5},
{"t":2013.71,"u":-10},{"t":2013.73,"u":0},{"t":2013.75,"u":-8},{"t":2013.77,"u":-3},{"t":2013.79,"u":-13},
{"t":2013.81,"u":-5.5},{"t":2013.83,"u":-13.5},{"t":2013.85,"u":-7.5},{"t":2013.87,"u":-1.5},{"t":2013.89,"u":-9.5},
{"t":2013.91,"u":-4},{"t":2013.93,"u":-5},{"t":2013.95,"u":-11},{"t":2013.97,"u":-2},{"t":2013.99,"u":-13},
{"t":2014.01,"u":-8.5},{"t":2014.03,"u":-3.5},{"t":2014.05,"u":-15.5},{"t":2014.07,"u":-7.5},{"t":2014.09,"u":-11.5},
{"t":2014.11,"u":-2},{"t":2014.13,"u":-10},{"t":2014.15,"u":-5},{"t":2014.17,"u":-15},{"t":2014.19,"u":-7},
{"t":2014.21,"u":-16},{"t":2014.23,"u":-10},{"t":2014.25,"u":-4},{"t":2014.27,"u":-12},{"t":2014.29,"u":-6},
{"t":2014.31,"u":-8},{"t":2014.33,"u":-14},{"t":2014.35,"u":-5},{"t":2014.37,"u":-16},{"t":2014.39,"u":-11},
{"t":2014.41,"u":-6.5},{"t":2014.43,"u":-18.5},{"t":2014.45,"u":-10.5},{"t":2014.47,"u":-14.5},{"t":2014.49,"u":-4.5},
{"t":2014.51,"u":-12},{"t":2014.53,"u":-7},{"t":2014.55,"u":-17},{"t":2014.57,"u":-9},{"t":2014.59,"u":-17},
{"t":2014.61,"u":-10.5},{"t":2014.63,"u":-4.5},{"t":2014.65,"u":-12.5},{"t":2014.67,"u":-6.5},{"t":2014.69,"u":-7.5},
{"t":2014.71,"u":-14},{"t":2014.73,"u":-5},{"t":2014.75,"u":-16},{"t":2014.77,"u":-11},{"t":2014.79,"u":-6},
{"t":2014.81,"u":-19},{"t":2014.83,"u":-11},{"t":2014.85,"u":-15},{"t":2014.87,"u":-5},{"t":2014.89,"u":-13},
{"t":2014.91,"u":-8.5},{"t":2014.93,"u":-18.5},{"t":2014.95,"u":-10.5},{"t":2014.97,"u":-18.5},
{"t":2014.99,"u":-13},{"t":2015.01,"u":-7},{"t":2015.03,"u":-15},{"t":2015.05,"u":-9},{"t":2015.07,"u":-10},
{"t":2015.09,"u":-17.5},{"t":2015.11,"u":-8.5},{"t":2015.13,"u":-19.5},{"t":2015.15,"u":-14.5},{"t":2015.17,"u":-9.5},
{"t":2015.19,"u":-24},{"t":2015.21,"u":-16},{"t":2015.23,"u":-20},{"t":2015.25,"u":-10},{"t":2015.27,"u":-18},
{"t":2015.29,"u":-14},{"t":2015.31,"u":-24},{"t":2015.33,"u":-16},{"t":2015.35,"u":-24},{"t":2015.37,"u":-18},
{"t":2015.41,"u":9.5},{"t":2015.43,"u":1.5},{"t":2015.45,"u":7.5},{"t":2015.47,"u":6.5},
{"t":2015.49,"u":1},{"t":2015.51,"u":10},{"t":2015.53,"u":-1},{"t":2015.55,"u":4},{"t":2015.57,"u":9},
{"t":2015.59,"u":-2.5},{"t":2015.61,"u":5.5},{"t":2015.63,"u":1.5},{"t":2015.65,"u":11.5},{"t":2015.67,"u":3.5},
{"t":2015.69,"u":8.5},{"t":2015.71,"u":-1.5},{"t":2015.73,"u":6.5},{"t":2015.75,"u":-1.5},{"t":2015.77,"u":4.5},
{"t":2015.79,"u":9.5},{"t":2015.81,"u":1.5},{"t":2015.83,"u":7.5},{"t":2015.85,"u":6.5},{"t":2015.87,"u":0.5},
{"t":2015.89,"u":8.5},{"t":2015.91,"u":-2.5},{"t":2015.93,"u":2.5},{"t":2015.95,"u":7.5},{"t":2015.97,"u":-4.5},
{"t":2015.99,"u":2.5},{"t":2016.01,"u":-1.5},{"t":2016.03,"u":8.5},{"t":2016.05,"u":0.5},{"t":2016.07,"u":5.5},
{"t":2016.09,"u":-5},{"t":2016.11,"u":3},{"t":2016.13,"u":-5},{"t":2016.15,"u":1},{"t":2016.17,"u":7},
{"t":2016.19,"u":-1.5},{"t":2016.21,"u":4.5},{"t":2016.23,"u":3.5},{"t":2016.25,"u":-2.5},{"t":2016.27,"u":6.5},
{"t":2016.29,"u":-5},{"t":2016.31,"u":0},{"t":2016.33,"u":5},{"t":2016.35,"u":-7},{"t":2016.37,"u":1},
{"t":2016.39,"u":-3},{"t":2016.41,"u":7},{"t":2016.43,"u":-1},{"t":2016.45,"u":4},{"t":2016.47,"u":-6},
{"t":2016.49,"u":2.5},{"t":2016.51,"u":-5.5},{"t":2016.53,"u":0.5},{"t":2016.55,"u":6.5},{"t":2016.57,"u":-1.5},
{"t":2016.59,"u":5},{"t":2016.61,"u":4},{"t":2016.63,"u":-2},{"t":2016.65,"u":7},{"t":2016.67,"u":-4},
{"t":2016.69,"u":1},{"t":2016.71,"u":6},{"t":2016.73,"u":-6},{"t":2016.75,"u":2},{"t":2016.77,"u":-2},
{"t":2016.79,"u":9},{"t":2016.81,"u":1},{"t":2016.83,"u":6},{"t":2016.85,"u":-4},{"t":2016.87,"u":4},
{"t":2016.89,"u":-4.5},{"t":2016.91,"u":1.5},{"t":2016.93,"u":7.5},{"t":2016.95,"u":-0.5},
{"t":2016.97,"u":5},{"t":2016.99,"u":4},{"t":2017.01,"u":-2},{"t":2017.03,"u":7},{"t":2017.05,"u":-4},
{"t":2017.07,"u":1},{"t":2017.09,"u":6},{"t":2017.11,"u":-6},{"t":2017.13,"u":2},{"t":2017.15,"u":-2},
{"t":2017.17,"u":8},{"t":2017.19,"u":0},{"t":2017.21,"u":5},{"t":2017.23,"u":-5},{"t":2017.25,"u":3},
{"t":2017.27,"u":-4.5},{"t":2017.29,"u":1.5},{"t":2017.31,"u":7.5},{"t":2017.33,"u":-0.5},{"t":2017.35,"u":5.5},
{"t":2017.37,"u":5.5},{"t":2017.39,"u":-0.5},{"t":2017.41,"u":8.5},{"t":2017.43,"u":-2.5},{"t":2017.45,"u":2.5},
{"t":2017.47,"u":8.5},{"t":2017.49,"u":-3.5},{"t":2017.51,"u":4.5},{"t":2017.53,"u":0.5},{"t":2017.55,"u":10.5},
{"t":2017.57,"u":3},{"t":2017.59,"u":8},{"t":2017.61,"u":-2},{"t":2017.63,"u":6},{"t":2017.65,"u":-2},
{"t":2017.67,"u":4.5},{"t":2017.69,"u":10.5},{"t":2017.71,"u":2.5},{"t":2017.73,"u":8.5},{"t":2017.75,"u":7.5},
{"t":2017.77,"u":0.5},{"t":2017.79,"u":9.5},{"t":2017.81,"u":-1.5},{"t":2017.83,"u":3.5},{"t":2017.85,"u":8.5},
{"t":2017.87,"u":-4.5},{"t":2017.89,"u":3.5},{"t":2017.91,"u":-0.5},{"t":2017.93,"u":9.5},{"t":2017.95,"u":1.5},
{"t":2017.97,"u":5},{"t":2017.99,"u":-5},{"t":2018.01,"u":3},{"t":2018.03,"u":-5},{"t":2018.05,"u":1},
{"t":2018.07,"u":6},{"t":2018.09,"u":-2},{"t":2018.11,"u":4},{"t":2018.13,"u":3},{"t":2018.15,"u":-3},
{"t":2018.17,"u":5.5},{"t":2018.19,"u":-5.5},{"t":2018.21,"u":-0.5},{"t":2018.23,"u":4.5},{"t":2018.25,"u":-7.5},
{"t":2018.27,"u":0.5},{"t":2018.29,"u":-3.5},{"t":2018.31,"u":6.5},{"t":2018.33,"u":-1.5},{"t":2018.35,"u":3.5},
{"t":2018.37,"u":-6},{"t":2018.39,"u":2},{"t":2018.41,"u":-6},{"t":2018.43,"u":0},{"t":2018.45,"u":6},
{"t":2018.47,"u":-1.5},{"t":2018.49,"u":4.5},{"t":2018.51,"u":3.5},{"t":2018.53,"u":-2.5},{"t":2018.55,"u":6.5},
{"t":2018.57,"u":-3.5},{"t":2018.59,"u":1.5},{"t":2018.61,"u":6.5},{"t":2018.63,"u":-5.5},{"t":2018.65,"u":2.5},
{"t":2018.67,"u":-0.5},{"t":2018.69,"u":9.5},{"t":2018.71,"u":1.5},{"t":2018.73,"u":6.5},{"t":2018.75,"u":-3.5},
{"t":2018.77,"u":4.5},{"t":2018.79,"u":-3.5},{"t":2018.81,"u":2.5},{"t":2018.83,"u":8.5},{"t":2018.85,"u":0.5},
{"t":2018.87,"u":6},{"t":2018.89,"u":5},{"t":2018.91,"u":-1},{"t":2018.93,"u":8},
{"t":2018.95,"u":-3.5},{"t":2018.97,"u":1.5},{"t":2018.99,"u":6.5},{"t":2019.01,"u":-5.5},{"t":2019.03,"u":2.5},
{"t":2019.05,"u":-2},{"t":2019.07,"u":8},{"t":2019.09,"u":0},{"t":2019.11,"u":5},{"t":2019.13,"u":-5},
{"t":2019.15,"u":2.5},{"t":2019.17,"u":-5.5},{"t":2019.19,"u":0.5},{"t":2019.21,"u":6.5},{"t":2019.23,"u":-1.5},
{"t":2019.25,"u":3.5},{"t":2019.27,"u":2.5},{"t":2019.29,"u":-3.5},{"t":2019.31,"u":5.5},{"t":2019.33,"u":-5.5},
{"t":2019.35,"u":-1},{"t":2019.37,"u":4},{"t":2019.39,"u":-8},{"t":2019.41,"u":0},{"t":2019.43,"u":-4},
{"t":2019.45,"u":6},{"t":2019.47,"u":-2},{"t":2019.49,"u":3},{"t":2019.51,"u":-7},{"t":2019.53,"u":1},
{"t":2019.55,"u":-6},{"t":2019.57,"u":0},{"t":2019.59,"u":6},{"t":2019.61,"u":-2},{"t":2019.63,"u":4},
{"t":2019.65,"u":4},{"t":2019.67,"u":-2},{"t":2019.69,"u":7},{"t":2019.71,"u":-4},{"t":2019.73,"u":1},
{"t":2019.75,"u":6.5},{"t":2019.77,"u":-5.5},{"t":2019.79,"u":2.5},{"t":2019.81,"u":-1.5},{"t":2019.83,"u":8.5},
{"t":2019.85,"u":0.5},{"t":2019.87,"u":5.5},{"t":2019.89,"u":-4.5},{"t":2019.91,"u":3.5},{"t":2019.93,"u":-4.5},
{"t":2019.95,"u":1},{"t":2019.97,"u":7},{"t":2019.99,"u":-1},{"t":2020.01,"u":5},{"t":2020.03,"u":4},
{"t":2020.05,"u":-2.5},{"t":2020.07,"u":6.5},{"t":2020.09,"u":-4.5},{"t":2020.11,"u":0.5},{"t":2020.13,"u":5.5},
{"t":2020.15,"u":-7},{"t":2020.17,"u":1},{"t":2020.19,"u":-3},{"t":2020.21,"u":7},{"t":2020.23,"u":-1},
{"t":2020.25,"u":4},{"t":2020.27,"u":-6},{"t":2020.29,"u":2},{"t":2020.31,"u":-6},{"t":2020.33,"u":0},
{"t":2020.35,"u":6.5},{"t":2020.37,"u":-1.5},{"t":2020.39,"u":4.5},{"t":2020.41,"u":3.5},{"t":2020.43,"u":-2.5},
{"t":2020.45,"u":7},{"t":2020.47,"u":-4},{"t":2020.49,"u":1},{"t":2020.51,"u":6},{"t":2020.53,"u":-6},
{"t":2020.55,"u":2.5},{"t":2020.57,"u":-1.5},{"t":2020.59,"u":8.5},{"t":2020.61,"u":0.5},{"t":2020.63,"u":5.5},
{"t":2020.65,"u":-4},{"t":2020.67,"u":4},{"t":2020.69,"u":-4},{"t":2020.71,"u":2},{"t":2020.73,"u":8},
{"t":2020.75,"u":-0.5},{"t":2020.77,"u":5.5},{"t":2020.79,"u":4.5},{"t":2020.81,"u":-1.5},{"t":2020.83,"u":7.5},
{"t":2020.85,"u":-5},{"t":2020.87,"u":0},{"t":2020.89,"u":5},{"t":2020.91,"u":-7},
{"t":2020.93,"u":-0.5},{"t":2020.95,"u":-4.5},{"t":2020.97,"u":5.5},{"t":2020.99,"u":-2.5},{"t":2021.01,"u":2.5},
{"t":2021.03,"u":-8},{"t":2021.05,"u":0},{"t":2021.07,"u":-8},{"t":2021.09,"u":-2},{"t":2021.11,"u":4},
{"t":2021.13,"u":-4.5},{"t":2021.15,"u":1.5},{"t":2021.17,"u":0.5},{"t":2021.19,"u":-5.5},{"t":2021.21,"u":3.5},
{"t":2021.23,"u":-8},{"t":2021.25,"u":-3},{"t":2021.27,"u":2},{"t":2021.29,"u":-10},{"t":2021.31,"u":-2},
{"t":2021.33,"u":-5.5},{"t":2021.35,"u":4.5},{"t":2021.37,"u":-3.5},{"t":2021.39,"u":1.5},{"t":2021.41,"u":-8.5},
{"t":2021.43,"u":0},{"t":2021.45,"u":-8},{"t":2021.47,"u":-2},{"t":2021.49,"u":4},{"t":2021.51,"u":-4},
{"t":2021.53,"u":2.5},{"t":2021.55,"u":1.5},{"t":2021.57,"u":-4.5},{"t":2021.59,"u":4.5},{"t":2021.61,"u":-6.5},
{"t":2021.63,"u":-1},{"t":2021.65,"u":4},{"t":2021.67,"u":-8},{"t":2021.69,"u":0},{"t":2021.71,"u":-4},
{"t":2021.73,"u":5.5},{"t":2021.75,"u":-2.5},{"t":2021.77,"u":2.5},{"t":2021.79,"u":-7.5},{"t":2021.81,"u":0.5},
{"t":2021.83,"u":-8},{"t":2021.85,"u":-2},{"t":2021.87,"u":4},{"t":2021.89,"u":-4},{"t":2021.91,"u":2},
{"t":2021.93,"u":0.5},{"t":2021.95,"u":-5.5},{"t":2021.97,"u":3.5},{"t":2021.99,"u":-7.5},{"t":2022.01,"u":-2.5},
{"t":2022.03,"u":2},{"t":2022.05,"u":-10},{"t":2022.07,"u":-2},{"t":2022.09,"u":-6},{"t":2022.11,"u":4},
{"t":2022.13,"u":-4},{"t":2022.15,"u":1},{"t":2022.17,"u":-9},{"t":2022.19,"u":-1},{"t":2022.21,"u":-9},
{"t":2022.23,"u":-3}
]
},
"resolve":{"axis":{"x":"independent","y":"independent"}},
"layer":[
{"data":{"name":"breaks"},
"mark":{"type":"rule","color":"#00ffff","strokeWidth":3,"strokeDash":[19,9]},
"encoding":{"x":{"field":"t","type":"quantitative","scale":{"domain":[2005.29,2022.5],"nice":false,"zero":false},"axis":{"orient":"top","values":[2006,2008,2010,2012,2014,2016,2018,2020,2022],"labels":false,"tickSize":10,"title":null}}}},
{"data":{"name":"pts"},
"mark":{"type":"point","filled":true,"shape":"circle","color":"#0000ff","size":75,"opacity":1,"strokeWidth":0},
"encoding":{
"x":{"field":"t","type":"quantitative","scale":{"domain":[2005.29,2022.5],"nice":false,"zero":false},"axis":{"orient":"bottom","values":[2006,2008,2010,2012,2014,2016,2018,2020,2022],"format":"d","tickSize":10,"labelPadding":8,"title":"Time (hours since beginning of first day UTC)","titlePadding":14}},
"y":{"field":"u","type":"quantitative","scale":{"domain":[-41.05,81.74],"nice":false,"zero":false},"axis":{"orient":"left","values":[-40,-20,0,20,40,60,80],"format":"d","tickSize":10,"labelPadding":10,"title":"Up (mm)","titlePadding":16}}}},
{"data":{"name":"model"},
"mark":{"type":"line","color":"#ff0000","strokeWidth":5,"interpolate":"monotone"},
"encoding":{
"x":{"field":"t","type":"quantitative","scale":{"domain":[2005.29,2022.5],"nice":false,"zero":false},"axis":{"orient":"bottom","values":[2005.5,2006.5,2007,2007.5,2008.5,2009,2009.5,2010.5,2011,2011.5,2012.5,2013,2013.5,2014.5,2015,2015.5,2016.5,2017,2017.5,2018.5,2019,2019.5,2020.5,2021,2021.5,2022.5],"labels":false,"tickSize":6,"title":null}},
"y":{"field":"u","type":"quantitative","scale":{"domain":[-41.05,81.74],"nice":false,"zero":false},"axis":{"orient":"right","values":[-40,-20,0,20,40,60,80],"labels":false,"tickSize":10,"title":null}}}},
{"data":{"name":"label"},
"mark":{"type":"text","align":"right","baseline":"alphabetic","font":"Liberation Sans","fontWeight":"bold","fontSize":20,"color":"black"},
"encoding":{
"x":{"field":"t","type":"quantitative","scale":{"domain":[2005.29,2022.5],"nice":false,"zero":false},"axis":{"orient":"top","values":[2005.5,2006.5,2007,2007.5,2008.5,2009,2009.5,2010.5,2011,2011.5,2012.5,2013,2013.5,2014.5,2015,2015.5,2016.5,2017,2017.5,2018.5,2019,2019.5,2020.5,2021,2021.5,2022.5],"labels":false,"tickSize":5,"title":null}},
"y":{"field":"u","type":"quantitative","scale":{"domain":[-41.05,81.74],"nice":false,"zero":false},"axis":null},
"text":{"field":"txt"}}}
]
}
